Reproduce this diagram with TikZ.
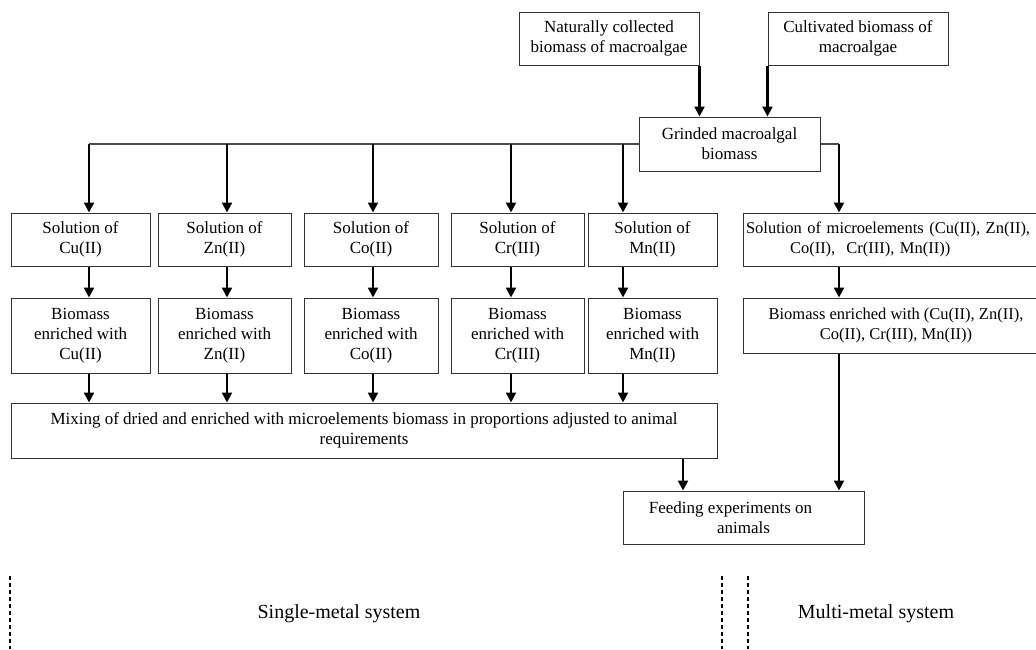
\documentclass[tikz,border=0pt]{standalone}
\usepackage{fontspec}
\setmainfont{Liberation Serif}
\usetikzlibrary{arrows.meta}
\begin{document}
\begin{tikzpicture}[x=1pt,y=-1pt,
  box/.style={draw=black!80, line width=1pt, inner sep=2pt, align=center,
    font=\fontsize{17}{20}\selectfont},
  arr/.style={line width=2.2pt, -{Triangle[length=10pt,width=10pt]}},
  link/.style={line width=1.8pt, draw=black!70},
  sep/.style={line width=1.2pt, dash pattern=on 4pt off 3pt},
  lab/.style={font=\fontsize{20}{24}\selectfont}]
\clip (0,0) rectangle (1036,649);
% top
\node[box, minimum width=180pt, minimum height=53pt] (nat) at (609,38.5) {Naturally collected\\biomass of macroalgae};
\node[box, minimum width=180pt, minimum height=53pt] (cult) at (858,38.5) {Cultivated biomass of\\macroalgae};
\node[box, minimum width=181pt, minimum height=54pt] (grind) at (729.5,144) {Grinded macroalgal\\biomass};
% row 1
\node[box, minimum width=139pt, minimum height=53pt] (cu) at (80.5,239.5) {Solution of\\Cu(II)};
\node[box, minimum width=133pt, minimum height=53pt] (zn) at (224.5,239.5) {Solution of\\Zn(II)};
\node[box, minimum width=134pt, minimum height=53pt] (co) at (371,239.5) {Solution of\\Co(II)};
\node[box, minimum width=133pt, minimum height=53pt] (cr) at (517.5,239.5) {Solution of\\Cr(III)};
\node[box, minimum width=129pt, minimum height=53pt] (mn) at (652.5,239.5) {Solution of\\Mn(II)};
\node[box, text width=300pt, inner sep=3pt, minimum height=53pt, align=left, font=\fontsize{16.5}{20}\selectfont] (msol) at (896,239.5) {Solution of microelements (Cu(II), Zn(II),\\\hspace*{44pt}Co(II),\ \ Cr(III), Mn(II))};
% row 2
\node[box, minimum width=139pt, minimum height=75pt] (cub) at (80.5,335.5) {Biomass\\enriched with\\Cu(II)};
\node[box, minimum width=133pt, minimum height=75pt] (znb) at (224.5,335.5) {Biomass\\enriched with\\Zn(II)};
\node[box, minimum width=134pt, minimum height=75pt] (cob) at (371,335.5) {Biomass\\enriched with\\Co(II)};
\node[box, minimum width=133pt, minimum height=75pt] (crb) at (517.5,335.5) {Biomass\\enriched with\\Cr(III)};
\node[box, minimum width=129pt, minimum height=75pt] (mnb) at (652.5,335.5) {Biomass\\enriched with\\Mn(II)};
\node[box, minimum width=306pt, minimum height=55pt, font=\fontsize{16.5}{20}\selectfont] (mbio) at (896,325.5) {Biomass enriched with (Cu(II), Zn(II),\\Co(II), Cr(III), Mn(II))};
% mixing and feeding
\node[box, minimum width=706pt, minimum height=55pt] (mix) at (364,430.5) {Mixing of dried and enriched with microelements biomass in proportions adjusted to animal\\requirements};
\node[box, minimum width=241pt, minimum height=53pt] (feed) at (743.5,517.5) {Feeding experiments on\hspace*{26pt}\\animals};
% branch coordinates
\coordinate (b1) at (89,144);
\coordinate (b2) at (227,144);
\coordinate (b3) at (373,144);
\coordinate (b4) at (511,144);
\coordinate (b5) at (623,144);
\coordinate (b6) at (839,144);
\coordinate (b7) at (683,144);
% connectors top
\draw[arr] (nat.south east) -- (nat.south east |- grind.north);
\draw[arr] (cult.south west) -- (cult.south west |- grind.north);
\draw[link] (grind.west) -- (b1);
\draw[link] (grind.east) -- (b6);
\draw[arr] (b1) -- (b1 |- cu.north);
\draw[arr] (b2) -- (b2 |- zn.north);
\draw[arr] (b3) -- (b3 |- co.north);
\draw[arr] (b4) -- (b4 |- cr.north);
\draw[arr] (b5) -- (b5 |- mn.north);
\draw[arr] (b6) -- (b6 |- msol.north);
% row1 -> row2
\draw[arr] (b1 |- cu.south) -- (b1 |- cub.north);
\draw[arr] (b2 |- zn.south) -- (b2 |- znb.north);
\draw[arr] (b3 |- co.south) -- (b3 |- cob.north);
\draw[arr] (b4 |- cr.south) -- (b4 |- crb.north);
\draw[arr] (b5 |- mn.south) -- (b5 |- mnb.north);
\draw[arr] (b6 |- msol.south) -- (b6 |- mbio.north);
% row2 -> mixing
\draw[arr] (b1 |- cub.south) -- (b1 |- mix.north);
\draw[arr] (b2 |- znb.south) -- (b2 |- mix.north);
\draw[arr] (b3 |- cob.south) -- (b3 |- mix.north);
\draw[arr] (b4 |- crb.south) -- (b4 |- mix.north);
\draw[arr] (b5 |- mnb.south) -- (b5 |- mix.north);
% to feeding
\draw[arr] (b7 |- mix.south) -- (b7 |- feed.north);
\draw[arr] (b6 |- mbio.south) -- (b6 |- feed.north);
% separators
\coordinate (d1t) at (10,576); \coordinate (d1b) at (10,649);
\coordinate (d2t) at (722,576); \coordinate (d2b) at (722,649);
\coordinate (d3t) at (748,576); \coordinate (d3b) at (748,649);
\draw[sep] (d1t) -- (d1b);
\draw[sep] (d2t) -- (d2b);
\draw[sep] (d3t) -- (d3b);
\node[lab] (single) at (339,614) {Single-metal system};
\node[lab] (multi) at (876,614) {Multi-metal system};
\end{tikzpicture}
\end{document}
